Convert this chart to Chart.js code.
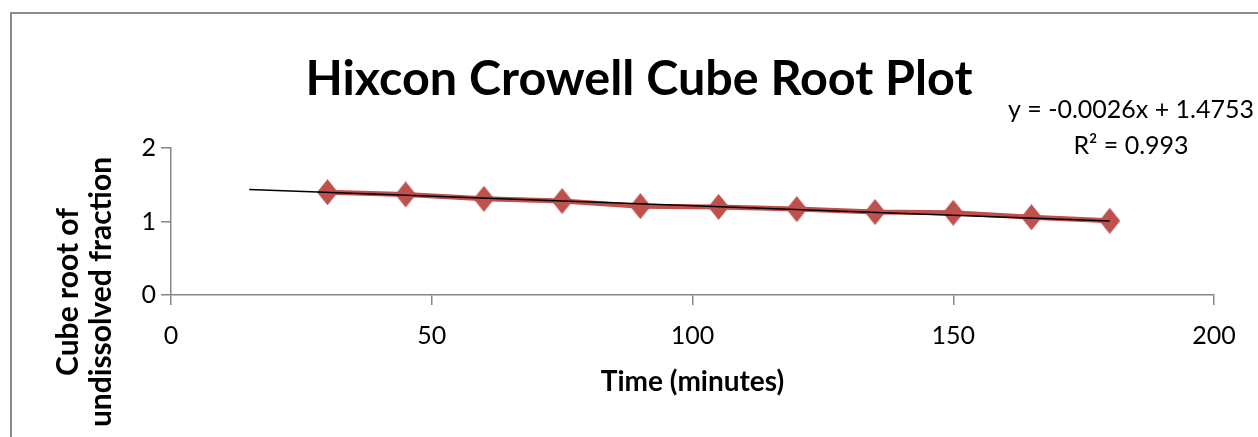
<!DOCTYPE html>
<html>
<head>
<meta charset="utf-8">
<script src="https://cdn.jsdelivr.net/npm/chart.js@4.4.1/dist/chart.umd.min.js"></script>
<style>
    html, body { margin: 0; padding: 0; background: #fff; overflow: hidden; }
    #frame { position: absolute; left: 10px; top: 12px; width: 1300px; height: 500px; border: 2px solid #8c8c8c; }
    #wrap { position: absolute; left: 0; top: 0; width: 1258px; height: 437px; }
</style>
</head>
<body>
<div id="frame"></div>
<div id="wrap"><canvas id="myChart" width="1258" height="437"></canvas></div>
<script>
const times = [30, 45, 60, 75, 90, 105, 120, 135, 150, 165, 180];
const cubeRoots = [1.40, 1.37, 1.31, 1.28, 1.21, 1.20, 1.17, 1.13, 1.12, 1.06, 1.01];
const trendX = [15, 180];
const trendY = [1.436, 1.007];
const xTicks = [0, 50, 100, 150, 200];
const yTicks = [0, 1, 2];
const equationText = ['y = -0.0026x + 1.4753', 'R² = 0.993'];

const FONT = 'Lato, "Open Sans", sans-serif';
const AXIS_GREY = '#868686';

// diamond marker, a bit taller than wide like the original
const makeDiamond = () => {
    const c = document.createElement('canvas');
    c.width = 21;
    c.height = 26;
    const g = c.getContext('2d');
    g.fillStyle = '#c0504d';
    g.beginPath();
    g.moveTo(10.5, 0);
    g.lineTo(21, 13);
    g.lineTo(10.5, 26);
    g.lineTo(0, 13);
    g.closePath();
    g.fill();
    return c;
};

const extraText = {
    id: 'extraText',
    afterDraw(chart) {
        const ctx = chart.ctx;
        const area = chart.chartArea;
        ctx.save();
        ctx.fillStyle = '#000';
        // trendline equation
        ctx.font = '25px ' + FONT;
        ctx.textAlign = 'center';
        ctx.textBaseline = 'middle';
        ctx.fillText(equationText[0], area.right - 83, area.top - 38);
        ctx.fillText(equationText[1], area.right - 83, area.top - 2);
        // y axis title, two lines rotated
        ctx.font = 'bold 30px ' + FONT;
        ctx.translate(84, 292);
        ctx.rotate(-Math.PI / 2);
        ctx.fillText('Cube root of', 0, -16);
        ctx.fillText('undissolved fraction', 0, 17);
        ctx.restore();
    }
};

const ctx = document.getElementById('myChart').getContext('2d');
const myChart = new Chart(ctx, {
    type: 'scatter',
    data: {
        datasets: [{
            data: times.map((t, i) => ({x: t, y: cubeRoots[i]})),
            showLine: true,
            borderColor: '#c0504d',
            borderWidth: 5,
            pointStyle: makeDiamond(),
            order: 2
        }, {
            data: trendX.map((t, i) => ({x: t, y: trendY[i]})),
            showLine: true,
            borderColor: '#000',
            borderWidth: 1.5,
            pointRadius: 0,
            order: 1
        }]
    },
    options: {
        responsive: false,
        animation: false,
        events: [],
        layout: { padding: { left: 20, right: 0, top: 0, bottom: 0 } },
        plugins: {
            legend: { display: false },
            tooltip: { enabled: false },
            title: {
                display: true,
                text: 'Hixcon Crowell Cube Root Plot',
                color: '#000',
                font: { family: FONT, size: 48.5, weight: 'bold', lineHeight: 1.2 },
                padding: { top: 50, bottom: 40 }
            }
        },
        scales: {
            x: {
                type: 'linear',
                min: 0,
                max: 200,
                afterBuildTicks: (s) => { s.ticks = xTicks.map(v => ({value: v})); },
                afterFit: (s) => { s.paddingRight = 44; s.height = 142; },
                border: { color: AXIS_GREY, width: 1.5 },
                grid: { drawOnChartArea: false, color: AXIS_GREY, tickLength: 10, lineWidth: 1.5 },
                ticks: { color: '#000', padding: 16, font: { family: FONT, size: 25 } },
                title: {
                    display: true,
                    text: 'Time (minutes)',
                    color: '#000',
                    font: { family: FONT, size: 28, weight: 'bold', lineHeight: 1.2 },
                    padding: { top: 0, bottom: 38 }
                }
            },
            y: {
                type: 'linear',
                min: 0,
                max: 2,
                afterBuildTicks: (s) => { s.ticks = yTicks.map(v => ({value: v})); },
                afterFit: (s) => { s.width = 151; },
                border: { color: AXIS_GREY, width: 1.5 },
                grid: { drawOnChartArea: false, color: AXIS_GREY, tickLength: 10, lineWidth: 1.5 },
                ticks: { color: '#000', padding: 5, font: { family: FONT, size: 25 } }
            }
        }
    },
    plugins: [extraText]
});
</script>
</body>
</html>
